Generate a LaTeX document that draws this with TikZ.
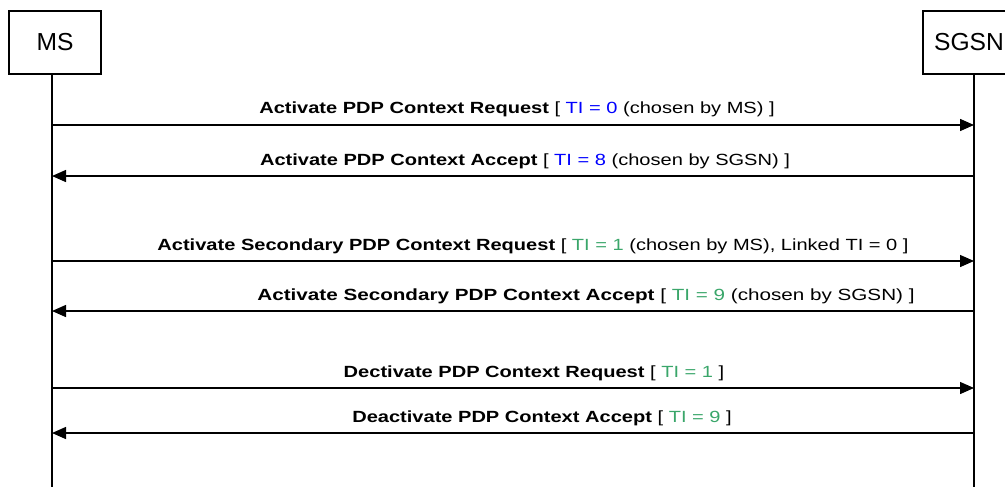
\documentclass[tikz,border=0pt]{standalone}
\usepackage{fontspec}
\setmainfont{Liberation Sans}
\usetikzlibrary{arrows.meta}
\definecolor{tiblue}{HTML}{0000FF}
\definecolor{tigreen}{HTML}{3AA66A}
\tikzset{
  entity/.style={draw, line width=0.9pt, minimum width=2.3cm, minimum height=1.575cm, font=\fontsize{17.5}{20}\selectfont},
  life/.style={line width=0.9pt},
  msg/.style={line width=1pt, -{Triangle[length=0.35cm, width=0.3cm]}},
  lab/.style={anchor=base, font=\fontsize{11.5}{13}\selectfont, inner sep=0pt, xscale=1.24, transform shape}
}
\newcommand{\tib}[1]{\textcolor{tiblue}{#1}}
\newcommand{\tig}[1]{\textcolor{tigreen}{#1}}

\begin{document}
\begin{tikzpicture}[x=0.025cm, y=-0.025cm]
\useasboundingbox (0,0) rectangle (1005,487);
% entities
\node[entity] (ms) at (55,42.5) {MS};
\node[entity] (sgsn) at (969,42.5) {SGSN};
\coordinate (msEnd) at (52,487);
\coordinate (sgsnEnd) at (974,487);
\draw[life] (msEnd |- ms.south) -- (msEnd);
\draw[life] (sgsnEnd |- sgsn.south) -- (sgsnEnd);

% primary context
\coordinate (ms1) at (52,125);
\coordinate (sg1) at (974,125);
\coordinate (ms2) at (52,176);
\coordinate (sg2) at (974,176);
\draw[msg] (ms1) -- (sg1);
\draw[msg] (sg2) -- (ms2);
\node[lab] (l1) at (517,113) {\textbf{Activate PDP Context Request} [ \tib{TI = 0} (chosen by MS) ]};
\node[lab] (l2) at (525,165) {\textbf{Activate PDP Context Accept} [ \tib{TI = 8} (chosen by SGSN) ]};

% secondary context
\coordinate (ms3) at (52,261);
\coordinate (sg3) at (974,261);
\coordinate (ms4) at (52,311);
\coordinate (sg4) at (974,311);
\draw[msg] (ms3) -- (sg3);
\draw[msg] (sg4) -- (ms4);
\node[lab] (l3) at (533,250) {\textbf{Activate Secondary PDP Context Request} [ \tig{TI = 1} (chosen by MS), Linked TI = 0 ]};
\node[lab, xscale=1.03] (l4) at (586,300) {\textbf{Activate Secondary PDP Context Accept} [ \tig{TI = 9} (chosen by SGSN) ]};

% deactivation
\coordinate (ms5) at (52,388);
\coordinate (sg5) at (974,388);
\coordinate (ms6) at (52,433);
\coordinate (sg6) at (974,433);
\draw[msg] (ms5) -- (sg5);
\draw[msg] (sg6) -- (ms6);
\node[lab] (l5) at (534,377) {\textbf{Dectivate PDP Context Request} [ \tig{TI = 1} ]};
\node[lab] (l6) at (542,422) {\textbf{Deactivate PDP Context Accept} [ \tig{TI = 9} ]};
\end{tikzpicture}
\end{document}
